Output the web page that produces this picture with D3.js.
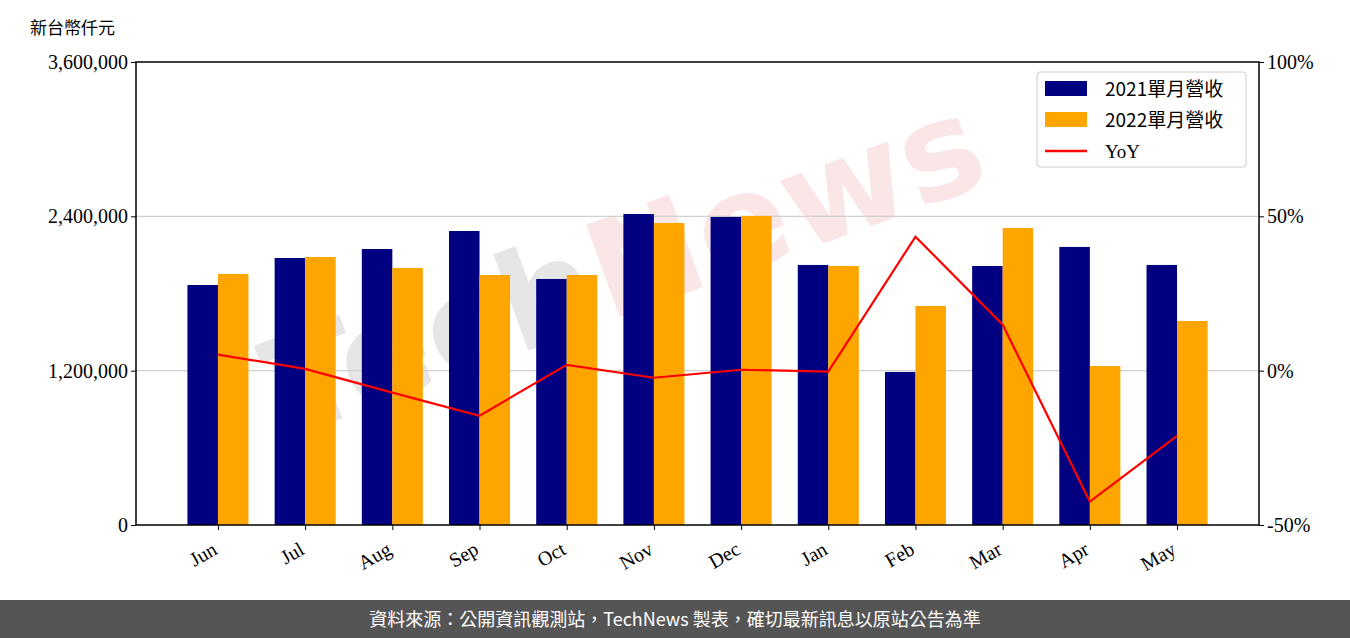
<!DOCTYPE html>
<html><head><meta charset="utf-8">
<script src="https://cdn.jsdelivr.net/npm/d3@7"></script>
<style>body{margin:0;background:#fff}</style>
</head><body>
<script>
// data
var months = ['Jun','Jul','Aug','Sep','Oct','Nov','Dec','Jan','Feb','Mar','Apr','May'];
var rev2021 = [1866000,2076000,2146000,2286000,1913000,2418000,2395000,2022000,1190000,2014000,2162000,2022000];
var rev2022 = [1952000,2084000,1998000,1944000,1944000,2348000,2403000,2014000,1703000,2309000,1236000,1586000];
var yoy = [5.2,0.6,-7.1,-14.6,1.9,-2.3,0.3,-0.3,43.4,14.9,-42.4,-21.1];
var leftTicks = [0,1200000,2400000,3600000];
var rightTicks = [-50,0,50,100];

var W = 1350, H = 638;
var L = 136, R = 1259, T = 62, B = 525;
var serif = "'Liberation Serif','DejaVu Serif',serif";
var cjk = "'Noto Sans CJK TC',sans-serif";

var svg = d3.select('body').append('svg').attr('width', W).attr('height', H);

var x = d3.scaleLinear().domain([-0.94, 11.94]).range([L, R]);
var y = d3.scaleLinear().domain([0, 3600000]).range([B, T]);
var y2 = d3.scaleLinear().domain([-50, 100]).range([B, T]);
var bw = x(0.35) - x(0);

// watermark
var wm = svg.append('text')
    .attr('transform', 'translate(640,310) rotate(-20)')
    .attr('text-anchor', 'middle')
    .attr('font-family', "'DejaVu Sans',sans-serif")
    .attr('font-weight', 'bold')
    .attr('font-size', 135);
wm.append('tspan').attr('fill', '#e6e6e6').text('Tech');
wm.append('tspan').attr('fill', '#fae6e6').text('News');

// gridlines
svg.append('g').selectAll('line').data([1200000, 2400000]).enter().append('line')
    .attr('x1', L).attr('x2', R)
    .attr('y1', d => y(d)).attr('y2', d => y(d))
    .attr('stroke', '#d0d0d0').attr('stroke-width', 1.2);

svg.append('g').selectAll('rect').data(rev2021).enter().append('rect')
    .attr('x', (d, i) => x(i) - bw).attr('width', bw)
    .attr('y', d => y(d)).attr('height', d => B - y(d))
    .attr('fill', '#000080');
svg.append('g').selectAll('rect').data(rev2022).enter().append('rect')
    .attr('x', (d, i) => x(i)).attr('width', bw)
    .attr('y', d => y(d)).attr('height', d => B - y(d))
    .attr('fill', '#ffa500');

svg.append('path').datum(yoy)
    .attr('d', d3.line().x((d, i) => x(i)).y(d => y2(d)))
    .attr('fill', 'none').attr('stroke', 'red').attr('stroke-width', 2.2);

// axes
var ax = svg.append('g').attr('transform', 'translate(' + L + ',0)')
    .call(d3.axisLeft(y).tickValues(leftTicks).tickFormat(d3.format(',')).tickSize(5));
var ax2 = svg.append('g').attr('transform', 'translate(' + R + ',0)')
    .call(d3.axisRight(y2).tickValues(rightTicks).tickFormat(d => d + '%').tickSize(5));
var axb = svg.append('g').attr('transform', 'translate(0,' + B + ')')
    .call(d3.axisBottom(x).tickValues(d3.range(12)).tickFormat(i => months[i]).tickSize(5));
[ax, ax2, axb].forEach(function(a) {
    a.select('.domain').remove();
    a.selectAll('text').attr('font-family', serif).attr('font-size', 20).attr('fill', '#000');
});
axb.selectAll('text')
    .attr('text-anchor', 'end')
    .attr('dy', '0.3em')
    .attr('transform', 'translate(-7,16) rotate(-30)');
svg.append('rect').attr('x', L).attr('y', T).attr('width', R - L).attr('height', B - T)
    .attr('fill', 'none').attr('stroke', '#000').attr('stroke-width', 1.5);

svg.append('text').attr('x', 30).attr('y', 34).attr('font-family', cjk).attr('font-size', 17)
    .text('新台幣仟元');

// legend
var lg = svg.append('g').attr('transform', 'translate(1037,72)');
lg.append('rect').attr('width', 209).attr('height', 95).attr('rx', 3)
    .attr('fill', '#fff').attr('fill-opacity', 0.85).attr('stroke', '#ccc');
var items = [['2021單月營收', '#000080', 'bar'], ['2022單月營收', '#ffa500', 'bar'], ['YoY', 'red', 'line']];
items.forEach(function(it, i) {
    var cy = 17 + i * 31;
    if (it[2] === 'bar') lg.append('rect').attr('x', 8).attr('y', cy - 8).attr('width', 42).attr('height', 15).attr('fill', it[1]);
    else lg.append('line').attr('x1', 8).attr('x2', 50).attr('y1', cy).attr('y2', cy).attr('stroke', it[1]).attr('stroke-width', 2.5);
    lg.append('text').attr('x', 68).attr('y', cy + 7).attr('font-family', i < 2 ? cjk : serif)
        .attr('font-size', 19).text(it[0]);
});

// footer
svg.append('rect').attr('x', 0).attr('y', 600).attr('width', W).attr('height', 38).attr('fill', '#555');
svg.append('text').attr('x', W / 2).attr('y', 626).attr('text-anchor', 'middle')
    .attr('font-family', cjk).attr('font-size', 18).attr('fill', '#fff')
    .text('資料來源：公開資訊觀測站，TechNews 製表，確切最新訊息以原站公告為準');
</script>
</body></html>
